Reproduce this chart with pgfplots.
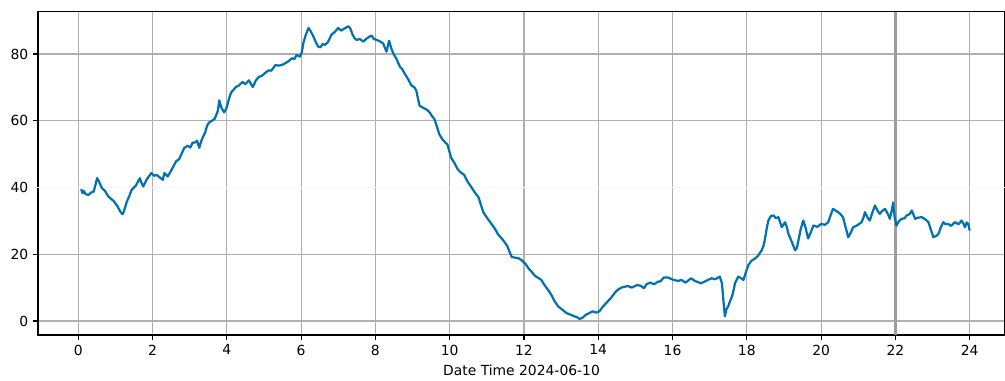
\documentclass[border=0pt]{standalone}
\usepackage{pgfplots}
\pgfplotsset{compat=1.18}
\usepackage{fontspec}
\setmainfont{DejaVu Sans}
\definecolor{lineblue}{RGB}{0,114,178}
\definecolor{gridgray}{RGB}{176,176,176}
\begin{document}
\begin{tikzpicture}
\begin{axis}[
  scale only axis,
  width=696.2pt, height=232.6pt,
  xmin=-1.08, xmax=24.95,
  ymin=-4.2, ymax=92.6,
  xtick={0,2,...,24},
  ytick={0,20,60,80},
  extra y ticks={40},
  extra y tick style={grid=major, major grid style={color=black!3, line width=0.8pt}, major tick style={color=black!12}},
  grid=major,
  major grid style={color=gridgray, line width=0.8pt},
  axis line style={line width=0.8pt},
  tick align=outside,
  major tick length=3.5pt,
  tick style={color=black, line width=0.8pt},
  xtick pos=bottom, ytick pos=left,
  /pgf/number format/assume math mode=true,
  ticklabel style={font=\fontsize{10}{12}\selectfont},
  xlabel={Date Time 2024-06-10},
  xlabel style={font=\fontsize{10}{12}\selectfont, yshift=0pt},
  clip=true,
]
\coordinate (bl) at (rel axis cs:0,0);
\coordinate (tr) at (rel axis cs:1,1);
\draw[color=black!38, line width=1.8pt] (axis cs:22,-4.2) -- (axis cs:22,92.6);
\addplot[color=lineblue, line width=1.6pt, line join=round] coordinates {
(0.08,39.5)(0.12,38.3)(0.15,39.0)(0.2,38.0)(0.28,37.8)(0.35,38.5)(0.42,38.8)(0.47,41.0)(0.51,42.8)(0.55,42.0)
(0.64,39.8)(0.72,39.0)(0.8,37.5)(0.86,36.8)(0.95,36.0)(1.05,34.5)(1.15,32.5)(1.2,32.0)(1.25,33.5)(1.31,35.8)
(1.38,37.5)(1.44,39.3)(1.55,40.5)(1.66,42.8)(1.7,41.5)(1.75,40.3)(1.85,42.5)(1.97,44.3)(2.05,43.5)(2.11,43.8)
(2.2,43.0)(2.28,42.3)(2.32,44.3)(2.41,43.3)(2.5,45.0)(2.57,46.5)(2.64,47.9)(2.72,48.5)(2.8,50.5)(2.86,51.9)
(2.95,52.5)(3.02,52.0)(3.08,53.4)(3.15,53.5)(3.2,54.0)(3.26,51.9)(3.3,53.5)(3.35,54.9)(3.42,56.5)(3.47,58.5)
(3.53,59.5)(3.6,60.0)(3.67,60.5)(3.71,61.5)(3.76,63.0)(3.80,66.1)(3.85,64.0)(3.93,62.5)(4.0,64.0)(4.06,66.6)
(4.12,68.5)(4.2,69.5)(4.24,70.1)(4.32,70.5)(4.42,71.6)(4.5,71.0)(4.6,72.1)(4.65,71.0)(4.7,70.1)(4.78,72.0)
(4.86,73.1)(4.95,73.5)(5.05,74.5)(5.13,75.1)(5.2,75.0)(5.31,76.7)(5.4,76.5)(5.5,76.8)(5.57,77.2)(5.66,77.8)
(5.75,78.7)(5.82,78.5)(5.88,79.7)(5.97,79.2)(6.02,80.5)(6.06,83.2)(6.12,85.5)(6.2,87.8)(6.25,87.0)(6.33,85.3)
(6.4,83.5)(6.46,82.2)(6.52,82.0)(6.58,83.0)(6.64,82.7)(6.72,83.5)(6.82,85.8)(6.9,86.5)(7.0,87.8)(7.08,87.0)
(7.15,87.5)(7.27,88.3)(7.32,87.8)(7.38,86.0)(7.44,84.7)(7.5,84.2)(7.58,84.5)(7.62,84.2)(7.68,83.7)(7.75,84.5)
(7.84,85.2)(7.9,85.5)(7.96,84.5)(8.04,84.2)(8.12,83.8)(8.21,83.2)(8.3,80.7)(8.37,84.0)(8.42,82.0)(8.48,80.2)
(8.57,78.5)(8.66,76.2)(8.72,75.5)(8.79,74.1)(8.88,72.5)(8.97,70.6)(9.05,70.0)(9.1,69.1)(9.15,66.5)(9.19,64.5)
(9.3,63.8)(9.4,63.2)(9.46,62.5)(9.52,61.5)(9.59,60.5)(9.65,58.5)(9.72,56.0)(9.8,54.5)(9.88,53.5)(9.94,52.9)
(10.0,50.5)(10.04,48.9)(10.12,47.5)(10.22,45.4)(10.3,44.5)(10.39,43.8)(10.47,42.0)(10.57,40.3)(10.68,38.5)(10.78,37.0)
(10.85,34.5)(10.91,32.5)(11.0,31.0)(11.1,29.5)(11.22,27.6)(11.3,26.0)(11.44,24.2)(11.55,22.5)(11.62,20.5)(11.67,19.2)
(11.75,19.0)(11.85,18.8)(11.94,18.2)(12.05,17.0)(12.12,15.8)(12.2,14.8)(12.3,13.5)(12.4,12.8)(12.47,12.3)(12.55,10.8)
(12.65,9.3)(12.74,7.8)(12.82,6.0)(12.92,4.4)(13.02,3.5)(13.14,2.4)(13.25,1.9)(13.36,1.4)(13.45,1.0)(13.5,0.6)
(13.58,1.0)(13.67,1.9)(13.75,2.3)(13.85,2.9)(13.95,2.5)(14.03,2.9)(14.12,4.2)(14.25,5.8)(14.35,7.0)(14.45,8.5)
(14.52,9.3)(14.62,10.0)(14.7,10.2)(14.79,10.5)(14.9,10.0)(15.05,10.8)(15.15,10.5)(15.23,9.8)(15.3,11.0)(15.4,11.5)
(15.5,11.0)(15.61,11.8)(15.67,11.8)(15.76,13.0)(15.88,13.0)(16.03,12.3)(16.15,12.0)(16.24,12.3)(16.35,11.5)(16.5,12.8)
(16.6,12.0)(16.77,11.3)(16.9,12.0)(17.05,12.8)(17.15,12.5)(17.27,13.3)(17.33,11.3)(17.37,6.0)(17.41,1.4)(17.45,3.5)
(17.5,4.4)(17.55,6.0)(17.6,7.3)(17.65,9.5)(17.68,11.3)(17.77,13.3)(17.85,12.8)(17.91,12.3)(17.97,14.5)(18.04,16.7)
(18.12,18.0)(18.22,18.7)(18.3,19.5)(18.4,21.2)(18.45,22.5)(18.49,24.7)(18.54,28.0)(18.58,30.1)(18.65,31.5)(18.72,31.6)
(18.78,30.8)(18.85,31.1)(18.94,28.1)(19.03,29.6)(19.08,28.0)(19.12,26.1)(19.2,24.0)(19.3,21.2)(19.35,22.0)(19.39,24.2)
(19.45,27.5)(19.52,30.1)(19.58,28.0)(19.65,24.7)(19.72,26.5)(19.79,28.6)(19.9,28.2)(20.0,29.1)(20.1,28.8)(20.19,29.6)
(20.25,31.5)(20.32,33.6)(20.4,33.0)(20.46,32.6)(20.52,32.0)(20.59,31.1)(20.65,28.5)(20.73,25.1)(20.8,26.5)(20.86,28.1)
(20.95,28.5)(21.09,29.6)(21.14,31.0)(21.18,32.6)(21.25,31.0)(21.31,30.1)(21.38,32.5)(21.45,34.6)(21.52,33.0)(21.58,32.1)
(21.65,33.0)(21.72,33.6)(21.8,32.0)(21.85,30.6)(21.9,33.0)(21.94,35.5)(21.98,31.0)(22.03,28.6)(22.1,30.0)(22.17,30.6)
(22.25,30.8)(22.3,31.6)(22.38,32.0)(22.44,33.1)(22.5,31.5)(22.53,30.6)(22.62,31.0)(22.71,31.1)(22.8,30.5)(22.89,29.6)
(22.95,27.5)(23.02,25.1)(23.1,25.5)(23.16,26.1)(23.22,28.0)(23.29,29.6)(23.35,29.0)(23.42,29.1)(23.5,28.5)(23.6,29.6)
(23.7,29.0)(23.78,30.1)(23.84,29.0)(23.87,28.1)(23.92,29.5)(23.96,29.1)(24.0,27.1)
};
\end{axis}
\pgfresetboundingbox
\path[use as bounding box] ([shift={(-27.4pt,-32.4pt)}]bl) rectangle ([shift={(0pt,8.6pt)}]tr);
\end{tikzpicture}
\end{document}
